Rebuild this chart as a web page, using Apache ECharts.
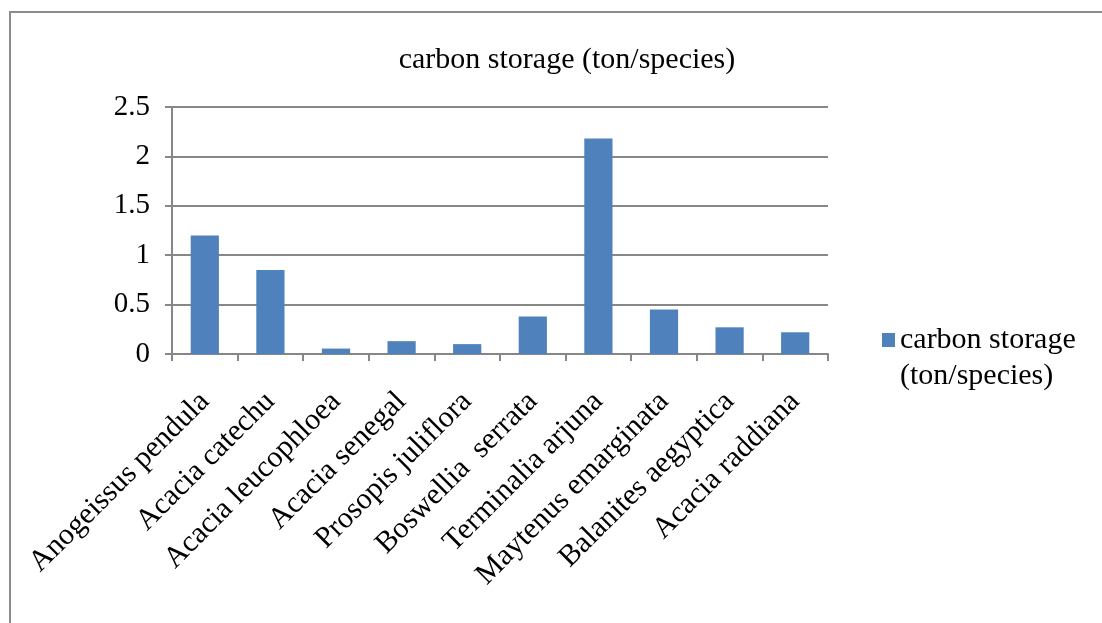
<!DOCTYPE html>
<html>
<head>
<meta charset="utf-8">
<script src="https://cdn.jsdelivr.net/npm/echarts@6/dist/echarts.min.js"></script>
<style>
html,body{margin:0;padding:0;background:#fff;}
#c{width:1102px;height:623px;}
</style>
</head>
<body>
<div id="c"></div>
<script>
const categories = ["Anogeissus pendula","Acacia catechu","Acacia leucophloea","Acacia senegal","Prosopis juliflora","Boswellia  serrata","Terminalia arjuna","Maytenus emarginata","Balanites aegyptica","Acacia raddiana"];
const seriesName = "carbon storage (ton/species)";
const values = [1.2, 0.85, 0.055, 0.13, 0.1, 0.38, 2.18, 0.45, 0.27, 0.22];
const yTicks = [0, 0.5, 1, 1.5, 2, 2.5];

const FONT = "Liberation Serif";
const GRAY = "#878787";
const chart = echarts.init(document.getElementById('c'), null, {renderer:'canvas'});
chart.setOption({
  animation:false,
  backgroundColor:'#fff',
  graphic:[{type:'rect', shape:{x:10,y:12,width:1100,height:620}, style:{fill:'none', stroke:'#8c8c8c', lineWidth:2}, silent:true}],
  title:{text:seriesName, left:562, top:40, textAlign:'center',
    textStyle:{fontFamily:FONT, fontSize:30, fontWeight:'normal', color:'#000'}},
  legend:{orient:'vertical', left:877, top:281, itemWidth:13, itemHeight:14, icon:'rect', itemGap:8,
    formatter:()=> '\ncarbon storage\n(ton/species)',
    textStyle:{fontFamily:FONT, fontSize:30, color:'#000', lineHeight:36}},
  grid:{left:172, right:274, top:107, bottom:269},
  xAxis:{type:'category', data:categories,
    axisLine:{lineStyle:{color:GRAY, width:2}},
    axisTick:{show:true, length:7, lineStyle:{color:GRAY, width:2}},
    axisLabel:{interval:0, rotate:45, margin:43, fontFamily:FONT, fontSize:30, color:'#000'}},
  yAxis:{type:'value', min:yTicks[0], max:yTicks[yTicks.length-1], interval:0.5,
    axisLine:{show:true, lineStyle:{color:GRAY, width:2}},
    axisTick:{show:true, length:7, lineStyle:{color:GRAY, width:2}},
    axisLabel:{margin:22, fontFamily:FONT, fontSize:29, color:'#000'},
    splitLine:{lineStyle:{color:GRAY, width:2}}},
  series:[{type:'bar', name:seriesName, data:values, barWidth:'43%', itemStyle:{color:'#4F81BD'}}]
});
</script>
</body>
</html>
